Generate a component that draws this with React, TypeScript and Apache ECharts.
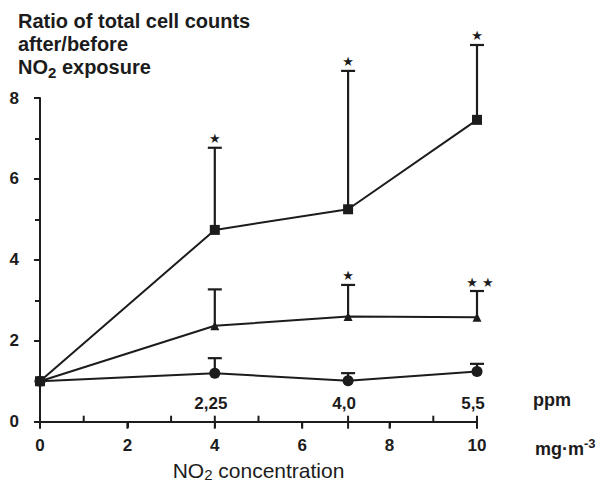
import React, { useEffect, useRef } from "react";
import * as echarts from "echarts";

// ---- data ----
const X_VALUES = [0, 4, 7.05, 10]; // NO2 concentration, mg·m-3
const SQUARE = [1.0, 4.74, 5.25, 7.46];
const SQUARE_ERR = [null, 6.77, 8.67, 9.31];
const SQUARE_SIG = ["", "*", "*", "*"];
const TRIANGLE = [1.0, 2.37, 2.6, 2.58];
const TRIANGLE_ERR = [null, 3.27, 3.38, 3.23];
const TRIANGLE_SIG = ["", "", "*", "**"];
const CIRCLE = [1.0, 1.2, 1.01, 1.24];
const CIRCLE_ERR = [null, 1.57, 1.2, 1.43];
const CIRCLE_SIG = ["", "", "", ""];

const PPM_POS = [4, 7.05, 10];
const PPM_LABELS = ["2,25", "4,0", "5,5"];
const X_TICKS_DOWN = [0, 2, 4, 6, 7.05, 8, 10];
const X_TICKS_UP = [0, 1, 3, 4, 5, 7.05, 9, 10];

const FONT = "'Liberation Sans', Arial, Helvetica, sans-serif";
const INK = "#1c1c1c";

function errorSeries(vals: number[], errs: (number | null)[], sig: string[]) {
  return {
    type: "custom",
    xAxisIndex: 0,
    yAxisIndex: 0,
    clip: false,
    silent: true,
    z: 2,
    data: X_VALUES.map((x, i) => [x, vals[i], errs[i] == null ? vals[i] : errs[i]]),
    renderItem: (params: any, api: any) => {
      const i = params.dataIndex;
      if (errs[i] == null) return { type: "group", children: [] };
      const base = api.coord([api.value(0), api.value(1)]);
      const top = api.coord([api.value(0), api.value(2)]);
      const children: any[] = [
        {
          type: "line",
          shape: { x1: base[0], y1: base[1], x2: top[0], y2: top[1] },
          style: { stroke: INK, lineWidth: 2.2 },
        },
        {
          type: "line",
          shape: { x1: top[0] - 7, y1: top[1], x2: top[0] + 7, y2: top[1] },
          style: { stroke: INK, lineWidth: 2.2 },
        },
      ];
      if (sig[i]) {
        children.push({
          type: "text",
          x: top[0] + (sig[i].length > 1 ? 3 : 0),
          y: top[1] - 9,
          style: {
            text: sig[i].split("").map(() => "★").join(" "),
            align: "center",
            verticalAlign: "middle",
            textAlign: "center",
            textVerticalAlign: "middle",
            fontSize: 13,
            fontFamily: "'DejaVu Sans', sans-serif",
            fill: INK,
          },
        });
      }
      return { type: "group", children };
    },
  };
}

function tickSeries(values: number[], dir: number, len: number) {
  return {
    type: "custom",
    xAxisIndex: 0,
    yAxisIndex: 0,
    clip: false,
    silent: true,
    z: 10,
    data: values.map((v) => [v, 0]),
    renderItem: (_params: any, api: any) => {
      const p = api.coord([api.value(0), 0]);
      return {
        type: "rect",
        shape: {
          x: p[0] - 1,
          y: dir > 0 ? p[1] : p[1] - len,
          width: 2,
          height: len,
        },
        style: { fill: INK },
      };
    },
  };
}

function lineSeries(vals: number[], symbol: string, size: number) {
  return {
    type: "line",
    xAxisIndex: 0,
    yAxisIndex: 0,
    data: X_VALUES.map((x, i) => [x, vals[i]]),
    symbol,
    symbolSize: size,
    showSymbol: true,
    clip: false,
    z: 3,
    itemStyle: { color: INK, borderWidth: 0 },
    lineStyle: { color: INK, width: 2 },
  };
}

export default function App() {
  const ref = useRef<HTMLDivElement>(null);
  useEffect(() => {
    const chart = echarts.init(ref.current!, null, { renderer: "svg" });
    const gridTop = 98;
    const gridBottomPx = 421.7;
    const gridH = gridBottomPx - gridTop;
    const axisLineStyle = { color: INK, width: 2 };
    const hiddenLine = { show: true, onZero: false, lineStyle: { color: INK, width: 2, opacity: 0 } };
    const tickFont = { fontSize: 17, fontWeight: "bold", color: INK, fontFamily: FONT };
    const option: any = {
      animation: false,
      backgroundColor: "#ffffff",
      textStyle: { fontFamily: FONT },
      grid: {
        left: 40,
        right: 135,
        top: gridTop,
        bottom: 486 - gridBottomPx,
        containLabel: false,
        outerBoundsMode: "none",
      },
      graphic: [
        {
          type: "text",
          left: 18,
          top: 9,
          style: {
            text: "Ratio of total cell counts\nafter/before\nNO{sub|2} exposure",
            fontFamily: FONT,
            fontSize: 20,
            fontWeight: "bold",
            lineHeight: 23,
            fill: INK,
            rich: {
              sub: { fontSize: 15, fontWeight: "bold", fontFamily: FONT, padding: [11, 0, 0, 0], fill: INK },
            },
          },
        },
        {
          type: "text",
          left: 533,
          top: 391,
          style: { text: "ppm", fontFamily: FONT, fontSize: 18, fontWeight: "bold", fill: INK },
        },
        {
          type: "text",
          left: 535,
          top: 437,
          style: {
            text: "mg·m{sup|-3}",
            fontFamily: FONT,
            fontSize: 18,
            fontWeight: "bold",
            fill: INK,
            rich: {
              sup: { fontSize: 13, fontWeight: "bold", fontFamily: FONT, padding: [0, 0, 11, 0], fill: INK },
            },
          },
        },
      ],
      xAxis: [
        {
          type: "value",
          min: 0,
          max: 10,
          interval: 2,
          position: "bottom",
          axisLine: { show: true, onZero: false, lineStyle: axisLineStyle },
          axisTick: { show: true, inside: false, length: 6, lineStyle: axisLineStyle },
          axisLabel: { margin: 15, ...tickFont },
          splitLine: { show: false },
          name: "NO{sub|2} concentration",
          nameLocation: "middle",
          nameGap: 37,
          nameTextStyle: {
            fontFamily: FONT,
            fontSize: 21,
            color: INK,
            rich: { sub: { fontSize: 15, fontFamily: FONT, color: INK, padding: [8, 0, 0, 0] } },
          },
        },
        {
          type: "value",
          min: 0,
          max: 10,
          position: "top",
          offset: -gridH,
          axisLine: hiddenLine,
          axisTick: { show: false },
          axisLabel: {
            customValues: PPM_POS,
            formatter: (v: number) => {
              const k = PPM_POS.findIndex((p) => Math.abs(p - v) < 1e-6);
              return k >= 0 ? PPM_LABELS[k] : "";
            },
            margin: 10,
            ...tickFont,
            padding: [0, 8, 0, 0],
          },
          splitLine: { show: false },
        },
      ],
      yAxis: {
        type: "value",
        min: 0,
        max: 8,
        interval: 2,
        axisLine: { show: true, onZero: false, lineStyle: axisLineStyle },
        axisTick: { show: true, length: 6, lineStyle: axisLineStyle },
        minorTick: { show: true, splitNumber: 2, length: 5, lineStyle: axisLineStyle },
        axisLabel: { margin: 21, ...tickFont, padding: [5, 0, 0, 0] },
        splitLine: { show: false },
      },
      series: [
        tickSeries(X_TICKS_DOWN, 1, 7),
        tickSeries(X_TICKS_UP, -1, 6),
        errorSeries(SQUARE, SQUARE_ERR, SQUARE_SIG),
        errorSeries(TRIANGLE, TRIANGLE_ERR, TRIANGLE_SIG),
        errorSeries(CIRCLE, CIRCLE_ERR, CIRCLE_SIG),
        lineSeries(SQUARE, "rect", 10),
        lineSeries(TRIANGLE, "triangle", 9),
        lineSeries(CIRCLE, "circle", 11),
      ],
    };
    chart.setOption(option);
    return () => chart.dispose();
  }, []);
  return (
    <div
      ref={ref}
      style={{ position: "fixed", left: 0, top: 0, width: 612, height: 486, background: "#fff" }}
    />
  );
}
